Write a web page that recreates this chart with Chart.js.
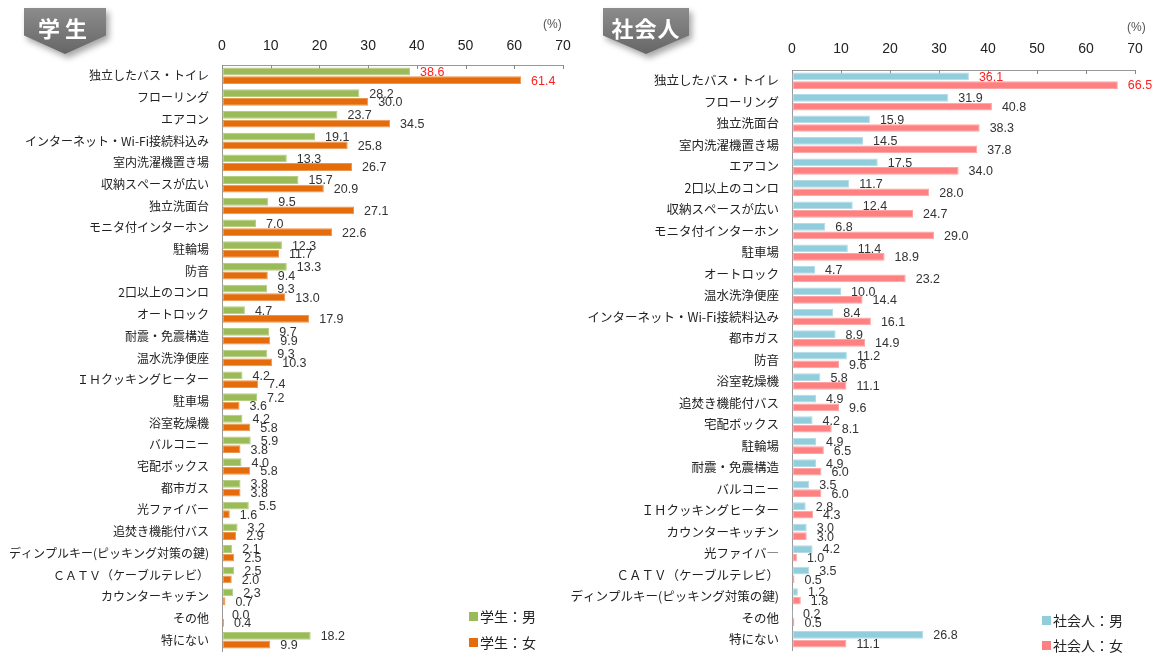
<!DOCTYPE html>
<html lang="ja">
<head>
<meta charset="utf-8">
<script src="https://cdn.jsdelivr.net/npm/chart.js@4"></script>
<style>
  body { margin: 0; background: #fff; font-family: "Noto Sans CJK JP", sans-serif; }
  #wrap { position: relative; width: 1168px; height: 653px; overflow: hidden; }
  .pane { position: absolute; top: 0; height: 653px; }
  .badge { position: absolute; top: 8px; height: 46px; filter: drop-shadow(3px 4px 3px rgba(0,0,0,0.35)); }
  .badge div { width: 100%; height: 100%; background: linear-gradient(#8c8c8c, #666);
    clip-path: polygon(0 0, 100% 0, 100% 60%, 50% 100%, 0 60%);
    color: #fff; font-weight: bold; font-size: 22px; text-align: center; line-height: 38px; letter-spacing: 5px; }
  .pct { position: absolute; font-size: 12px; color: #555; font-family: "Liberation Sans", sans-serif; }
  .leg { position: absolute; font-size: 14px; color: #222; display: flex; align-items: center; }
  .leg i { display: inline-block; width: 9px; height: 9px; margin-right: 2px; }
</style>
</head>
<body>
<div id="wrap">
  <div class="pane" style="left:0;width:584px"><canvas id="stuChart" width="584" height="653"></canvas></div>
  <div class="pane" style="left:550px;width:618px"><canvas id="workChart" width="618" height="653"></canvas></div>

  <div class="badge" style="left:24px;width:82px"><div>学生</div></div>
  <div class="badge" style="left:603px;width:86px"><div style="letter-spacing:1px">社会人</div></div>
  <div class="pct" style="left:543px;top:17px">(%)</div>
  <div class="pct" style="left:1127px;top:20px">(%)</div>

  <div class="leg" style="left:469px;top:606px"><i style="background:#9bbb59"></i>学生：男</div>
  <div class="leg" style="left:469px;top:632px"><i style="background:#e46c0a"></i>学生：女</div>
  <div class="leg" style="left:1042px;top:610px"><i style="background:#92cddc"></i>社会人：男</div>
  <div class="leg" style="left:1042px;top:635px"><i style="background:#ff8080"></i>社会人：女</div>
</div>

<script>
  // 学生
  const stuLabels = ['独立したバス・トイレ', 'フローリング', 'エアコン', 'インターネット・Wi-Fi接続料込み', '室内洗濯機置き場',
    '収納スペースが広い', '独立洗面台', 'モニタ付インターホン', '駐輪場', '防音', '2口以上のコンロ', 'オートロック',
    '耐震・免震構造', '温水洗浄便座', 'ＩＨクッキングヒーター', '駐車場', '浴室乾燥機', 'バルコニー', '宅配ボックス',
    '都市ガス', '光ファイバー', '追焚き機能付バス', 'ディンプルキー(ピッキング対策の鍵)', 'ＣＡＴＶ（ケーブルテレビ）',
    'カウンターキッチン', 'その他', '特にない'];
  const stuMale = [38.6, 28.2, 23.7, 19.1, 13.3, 15.7, 9.5, 7.0, 12.3, 13.3, 9.3, 4.7, 9.7, 9.3, 4.2, 7.2, 4.2, 5.9, 4.0,
    3.8, 5.5, 3.2, 2.1, 2.5, 2.3, 0.0, 18.2];
  const stuFemale = [61.4, 30.0, 34.5, 25.8, 26.7, 20.9, 27.1, 22.6, 11.7, 9.4, 13.0, 17.9, 9.9, 10.3, 7.4, 3.6, 5.8, 3.8, 5.8,
    3.8, 1.6, 2.9, 2.5, 2.0, 0.7, 0.4, 9.9];

  // 社会人
  const workLabels = ['独立したバス・トイレ', 'フローリング', '独立洗面台', '室内洗濯機置き場', 'エアコン', '2口以上のコンロ',
    '収納スペースが広い', 'モニタ付インターホン', '駐車場', 'オートロック', '温水洗浄便座', 'インターネット・Wi-Fi接続料込み',
    '都市ガス', '防音', '浴室乾燥機', '追焚き機能付バス', '宅配ボックス', '駐輪場', '耐震・免震構造', 'バルコニー',
    'ＩＨクッキングヒーター', 'カウンターキッチン', '光ファイバ―', 'ＣＡＴＶ（ケーブルテレビ）',
    'ディンプルキー(ピッキング対策の鍵)', 'その他', '特にない'];
  const workMale = [36.1, 31.9, 15.9, 14.5, 17.5, 11.7, 12.4, 6.8, 11.4, 4.7, 10.0, 8.4, 8.9, 11.2, 5.8, 4.9, 4.2, 4.9, 4.9,
    3.5, 2.8, 3.0, 4.2, 3.5, 1.2, 0.2, 26.8];
  const workFemale = [66.5, 40.8, 38.3, 37.8, 34.0, 28.0, 24.7, 29.0, 18.9, 23.2, 14.4, 16.1, 14.9, 9.6, 11.1, 9.6, 8.1, 6.5,
    6.0, 6.0, 4.3, 3.0, 1.0, 0.5, 1.8, 0.5, 11.1];

  const xTicks = [0, 10, 20, 30, 40, 50, 60, 70];

  // value labels next to each bar
  const valueLabels = {
    id: 'valueLabels',
    afterDatasetsDraw(chart) {
      const c = chart.ctx;
      c.save();
      c.font = '12.5px "Liberation Sans", Arial, sans-serif';
      c.textAlign = 'left';
      c.textBaseline = 'middle';
      chart.data.datasets.forEach((ds, di) => {
        chart.getDatasetMeta(di).data.forEach((bar, i) => {
          c.fillStyle = i === 0 ? '#ff2020' : '#333';
          c.fillText(ds.data[i].toFixed(1), bar.x + 10, bar.y + 1);
        });
      });
      c.restore();
    }
  };

  // small tick marks hanging down from the top axis
  const topTicks = {
    id: 'topTicks',
    beforeDatasetsDraw(chart) {
      const c = chart.ctx, x = chart.scales.x, top = chart.chartArea.top;
      c.save();
      c.strokeStyle = '#888';
      c.lineWidth = 1;
      xTicks.forEach(v => {
        const px = Math.round(x.getPixelForValue(v)) + 0.5;
        c.beginPath();
        c.moveTo(px, top);
        c.lineTo(px, top + 4);
        c.stroke();
      });
      c.restore();
    }
  };

  function makeChart(id, labels, male, female, colors, geo) {
    return new Chart(document.getElementById(id).getContext('2d'), {
      type: 'bar',
      data: {
        labels: labels,
        datasets: [
          { data: male, backgroundColor: colors[0], borderColor: colors[2], borderWidth: 1, borderSkipped: false },
          { data: female, backgroundColor: colors[1], borderColor: colors[3], borderWidth: 1, borderSkipped: false }
        ]
      },
      options: {
        indexAxis: 'y',
        responsive: false,
        animation: false,
        devicePixelRatio: 1,
        categoryPercentage: 0.8,
        barPercentage: 0.9,
        layout: { padding: { left: 0, top: 0, right: geo.right, bottom: geo.bottom } },
        plugins: { legend: { display: false }, tooltip: { enabled: false } },
        scales: {
          x: {
            position: 'top',
            min: 0,
            max: 70,
            afterBuildTicks: (s) => { s.ticks = xTicks.map(v => ({ value: v })); },
            afterFit: (s) => { s.height = geo.top; },
            grid: { drawOnChartArea: false, drawTicks: false },
            border: { display: true, color: '#999' },
            ticks: { padding: geo.tickPad, color: '#222', font: { family: '"Liberation Sans", Arial, sans-serif', size: 14 } }
          },
          y: {
            afterFit: (s) => { s.width = geo.left; s.paddingTop = 0; s.paddingBottom = 0; },
            grid: { display: false, drawTicks: false },
            border: { display: true, color: '#999' },
            ticks: { padding: 13, color: '#222', autoSkip: false, font: { family: '"Noto Sans CJK JP", sans-serif', size: geo.labelSize } }
          }
        }
      },
      plugins: [valueLabels, topTicks]
    });
  }

  makeChart('stuChart', stuLabels, stuMale, stuFemale,
    ['#9bbb59', '#e46c0a', '#b3cd81', '#ee9550'],
    { left: 222, top: 65, right: 21, bottom: 2, tickPad: 10, labelSize: 12 });

  makeChart('workChart', workLabels, workMale, workFemale,
    ['#92cddc', '#ff8080', '#b2dce7', '#ffa3a3'],
    { left: 242, top: 70, right: 33, bottom: 3, tickPad: 12, labelSize: 12.5 });
</script>
</body>
</html>
